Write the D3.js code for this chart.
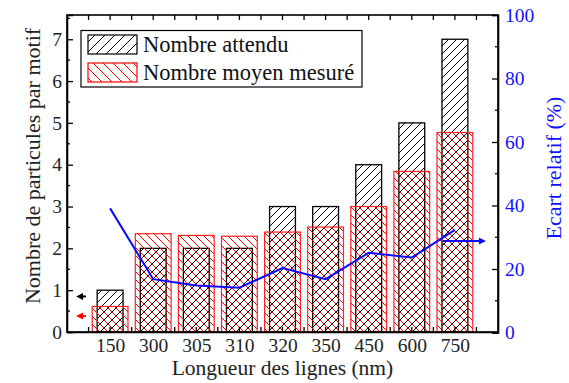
<!DOCTYPE html>
<html><head><meta charset="utf-8">
<script src="https://cdn.jsdelivr.net/npm/d3@7"></script>
<style>
body{margin:0;background:#fff;}
text{font-family:"Liberation Serif","Times New Roman",serif;}
</style></head>
<body><svg id="c" width="569" height="383"></svg>
<script>
const categories = ["150","300","305","310","320","350","450","600","750"];
const expected = [1,2,2,2,3,3,4,5,7];
const measured = [0.61,2.35,2.31,2.29,2.39,2.51,3.0,3.84,4.77];
const ecart = [39.1,16.8,14.8,14.1,20.3,16.8,25.1,23.6,32.3];
const leftTicks = [0,1,2,3,4,5,6,7];
const rightTicks = [0,20,40,60,80,100];
const seriesNames = ["Nombre attendu","Nombre moyen mesuré"];
// annotation arrows: [x0, x1, value]
const arrowBlack = [0.44,0.21,0.85];
const arrowRed = [0.44,0.21,0.38];
const arrowBlue = [8.72,9.72,28.8];

const svg = d3.select("#c");
const L=67,R=498,T=15,B=332;
const x = d3.scaleLinear().domain([0,10]).range([L,R]);
const y = d3.scaleLinear().domain([0,7.58]).range([B,T]);
const y2 = d3.scaleLinear().domain([0,100]).range([B+0.5,T]);

const defs = svg.append("defs");
function hatch(id,color,dir,s){
  const p = defs.append("pattern").attr("id",id).attr("patternUnits","userSpaceOnUse")
    .attr("width",s).attr("height",s);
  const d = dir>0
    ? `M${-s/4},${s/4} l${s/2},${-s/2} M0,${s} l${s},${-s} M${s*0.75},${s*1.25} l${s/2},${-s/2}`
    : `M${-s/4},${s*0.75} l${s/2},${s/2} M0,0 l${s},${s} M${s*0.75},${-s/4} l${s/2},${s/2}`;
  p.append("path").attr("d",d).attr("stroke",color).attr("stroke-width",1).attr("fill","none");
}
hatch("hb","#000",1,8);
hatch("hr","#ff0000",-1,8);
hatch("hbl","#000",1,10);
hatch("hrl","#ff0000",-1,10);

// black bars
const bw = 0.6, rw = 0.83;
svg.append("g").selectAll("rect").data(expected).join("rect")
  .attr("x",(d,i)=>x(i+1-bw/2)).attr("width",x(bw)-x(0))
  .attr("y",d=>y(d)).attr("height",d=>y(0)-y(d))
  .attr("fill","url(#hb)").attr("stroke","#000").attr("stroke-width",1.3);
// red bars
svg.append("g").selectAll("rect").data(measured).join("rect")
  .attr("x",(d,i)=>x(i+1-rw/2)).attr("width",x(rw)-x(0))
  .attr("y",d=>y(d)).attr("height",d=>y(0)-y(d))
  .attr("fill","url(#hr)").attr("stroke","#ff2020").attr("stroke-width",1.2);

// blue line
svg.append("path").datum(ecart)
  .attr("d",d3.line().x((d,i)=>x(i+1)).y(d=>y2(d)))
  .attr("fill","none").attr("stroke","#0a0aff").attr("stroke-width",2);

// arrows
function arrow(a,scale,color){
  const x0=x(a[0]),x1=x(a[1]),yy=scale(a[2]);
  const dir = Math.sign(x1-x0);
  svg.append("line").attr("x1",x0).attr("x2",x1-dir*5).attr("y1",yy).attr("y2",yy)
    .attr("stroke",color).attr("stroke-width",2);
  svg.append("path").attr("d",`M${x1},${yy} L${x1-dir*7},${yy-3.5} L${x1-dir*7},${yy+3.5} Z`).attr("fill",color);
}
arrow(arrowBlack,y,"#000");
arrow(arrowRed,y,"#ff0000");
arrow(arrowBlue,y2,"#0a0aff");

// axes
const ax = svg.append("g");
// frame
ax.append("rect").attr("x",L).attr("y",T).attr("width",R-L).attr("height",B-T)
  .attr("fill","none").attr("stroke","#000").attr("stroke-width",1.6);
// left
const gl = ax.append("g").attr("transform",`translate(${L},0)`)
  .call(d3.axisLeft(y).tickValues(leftTicks).tickSize(-6).tickPadding(5).tickFormat(d3.format("d")));
gl.append("g").selectAll("line").data(d3.range(0.5,7.6,1)).join("line")
  .attr("x1",0).attr("x2",3).attr("y1",d=>y(d)).attr("y2",d=>y(d)).attr("stroke","#000").attr("stroke-width",1.3);
// right
const gr = ax.append("g").attr("transform",`translate(${R},0)`)
  .call(d3.axisRight(y2).tickValues(rightTicks).tickSize(-6).tickPadding(7));
gr.append("g").selectAll("line").data(d3.range(10,100,20)).join("line")
  .attr("x1",0).attr("x2",-3).attr("y1",d=>y2(d)).attr("y2",d=>y2(d)).attr("stroke","#000").attr("stroke-width",1.3);
gr.selectAll(".tick text").attr("fill","#1010ff");
// bottom
const gb = ax.append("g").attr("transform",`translate(0,${B})`)
  .call(d3.axisBottom(x).tickValues(d3.range(1,10)).tickSize(0).tickPadding(6).tickFormat(d=>categories[d-1]));
gb.append("g").selectAll("line").data(d3.range(0.5,10,0.5)).join("line")
  .attr("x1",d=>x(d)).attr("x2",d=>x(d)).attr("y1",0).attr("y2",-5).attr("stroke","#000").attr("stroke-width",1.3);
// top
ax.append("g").selectAll("line").data(d3.range(0.5,10,0.5)).join("line")
  .attr("x1",d=>x(d)).attr("x2",d=>x(d)).attr("y1",T).attr("y2",T+5).attr("stroke","#000").attr("stroke-width",1.3);

ax.selectAll(".domain").attr("stroke","#000").attr("stroke-width",1.6);
ax.selectAll(".tick line").attr("stroke","#000").attr("stroke-width",1.3);
ax.selectAll(".tick text").style("font-family","'Liberation Serif',serif").style("font-size","19.5px");
gl.selectAll(".tick text").attr("fill","#222");
gb.selectAll(".tick text").attr("fill","#222");

// titles
svg.append("text").attr("x",(L+R)/2).attr("y",375).attr("text-anchor","middle")
  .style("font-size","21.5px").attr("fill","#222").text("Longueur des lignes (nm)");
svg.append("text").attr("transform","translate(40,166) rotate(-90)").attr("text-anchor","middle")
  .style("font-size","22px").attr("fill","#222").text("Nombre de particules par motif");
svg.append("text").attr("transform","translate(561,168) rotate(-90)").attr("text-anchor","middle")
  .style("font-size","22px").attr("fill","#1010ff").text("Ecart relatif (%)");

// legend
const lg = svg.append("g");
lg.append("rect").attr("x",81).attr("y",30.5).attr("width",281).attr("height",56.5)
  .attr("fill","#fff").attr("stroke","#000").attr("stroke-width",1.2);
const sw = [["url(#hbl)","#000"],["url(#hrl)","#ff0000"]];
seriesNames.forEach((n,i)=>{
  lg.append("rect").attr("x",88).attr("y",35+i*28).attr("width",49).attr("height",19)
    .attr("fill",sw[i][0]).attr("stroke",sw[i][1]).attr("stroke-width",1.2);
  lg.append("text").attr("x",143).attr("y",52+i*28).style("font-size","22.5px").attr("fill","#111").text(n);
});
</script></body></html>
